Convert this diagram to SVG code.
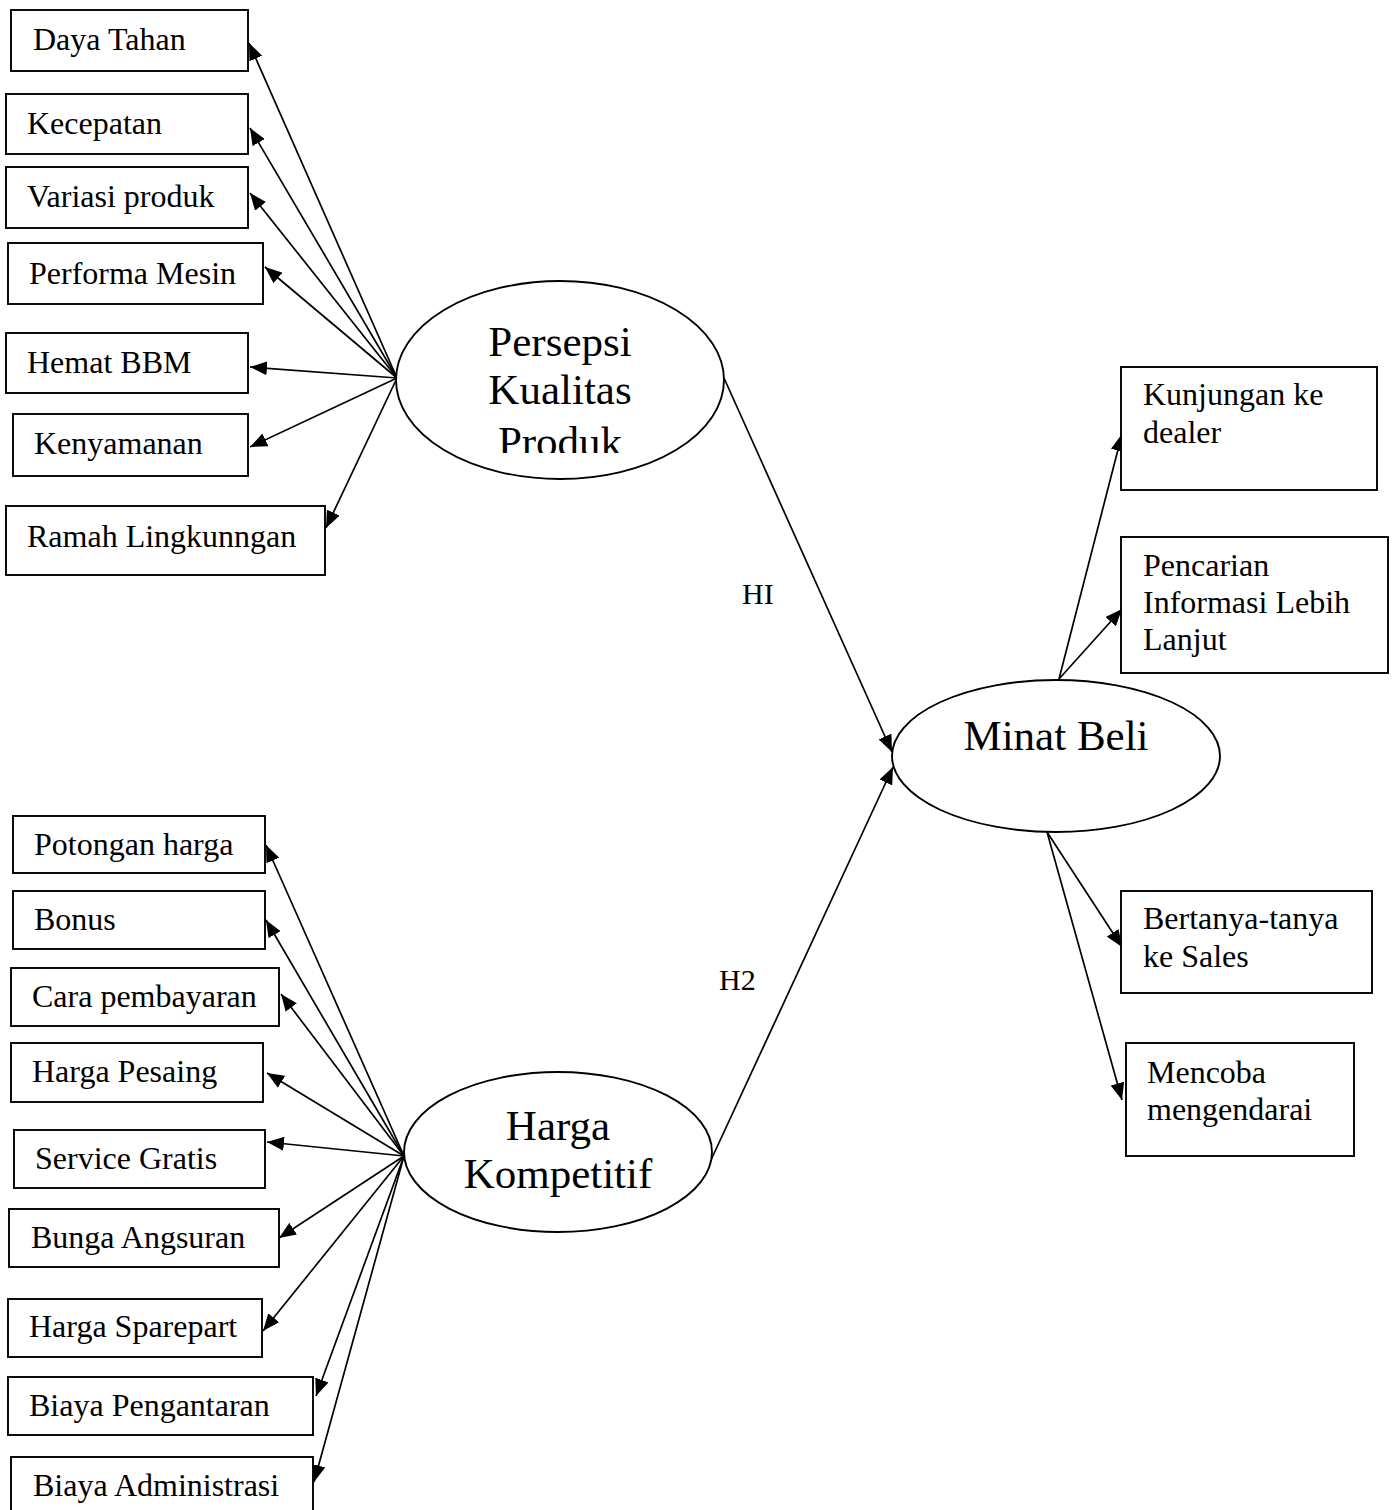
<svg xmlns="http://www.w3.org/2000/svg" width="1393" height="1510" viewBox="0 0 1393 1510">
<style>
.box{fill:#fff;stroke:#000;stroke-width:1.9}
.ell{fill:#fff;stroke:#000;stroke-width:1.9}
.t{font-family:"Liberation Serif","Times New Roman",serif;font-size:32px;fill:#000}
.big{font-family:"Liberation Serif","Times New Roman",serif;font-size:43px;fill:#000;text-anchor:middle}
.c{stroke:#000;stroke-width:1.7;fill:none;marker-end:url(#ah)}
.h{font-family:"Liberation Serif","Times New Roman",serif;font-size:30px;fill:#000}
</style>
<defs>
<marker id="ah" markerUnits="userSpaceOnUse" markerWidth="18" markerHeight="14" refX="17" refY="7" orient="auto">
<path d="M0,0 L17,7 L0,14 z" fill="#000"/>
</marker>
<clipPath id="clipP"><rect x="396" y="280" width="330" height="173"/></clipPath>
</defs>
<rect width="1393" height="1510" fill="#fff"/>
<g id="connectors">
<line class="c" x1="397" y1="378" x2="249" y2="43"/>
<line class="c" x1="397" y1="378" x2="250" y2="128"/>
<line class="c" x1="397" y1="378" x2="250" y2="193"/>
<line class="c" x1="397" y1="378" x2="265" y2="267"/>
<line class="c" x1="397" y1="378" x2="250" y2="367"/>
<line class="c" x1="397" y1="378" x2="250" y2="447"/>
<line class="c" x1="397" y1="378" x2="326" y2="528"/>
<line class="c" x1="404" y1="1156" x2="266" y2="845"/>
<line class="c" x1="404" y1="1156" x2="266" y2="920"/>
<line class="c" x1="404" y1="1156" x2="281" y2="994"/>
<line class="c" x1="404" y1="1156" x2="267" y2="1073"/>
<line class="c" x1="404" y1="1156" x2="267" y2="1142"/>
<line class="c" x1="404" y1="1156" x2="279" y2="1238"/>
<line class="c" x1="404" y1="1156" x2="263" y2="1331"/>
<line class="c" x1="404" y1="1156" x2="316" y2="1396"/>
<line class="c" x1="404" y1="1156" x2="314" y2="1482"/>
<line class="c" x1="724" y1="378" x2="892" y2="752"/>
<line class="c" x1="711" y1="1160" x2="893" y2="767"/>
<line class="c" x1="1059" y1="679" x2="1122" y2="434"/>
<line class="c" x1="1059" y1="679" x2="1122" y2="609"/>
<line class="c" x1="1047" y1="832" x2="1122" y2="947"/>
<line class="c" x1="1047" y1="832" x2="1122" y2="1100"/>
</g>
<g id="n-daya"><rect class="box" x="11" y="10" width="237" height="61"/><text class="t" x="33" y="50">Daya Tahan</text></g>
<g id="n-kecepatan"><rect class="box" x="6" y="94" width="242" height="60"/><text class="t" x="27" y="134">Kecepatan</text></g>
<g id="n-variasi"><rect class="box" x="6" y="167" width="242" height="61"/><text class="t" x="27" y="207">Variasi produk</text></g>
<g id="n-performa"><rect class="box" x="8" y="243" width="255" height="61"/><text class="t" x="29" y="284">Performa Mesin</text></g>
<g id="n-hemat"><rect class="box" x="6" y="333" width="242" height="60"/><text class="t" x="27" y="373">Hemat BBM</text></g>
<g id="n-kenyamanan"><rect class="box" x="13" y="414" width="235" height="62"/><text class="t" x="34" y="454">Kenyamanan</text></g>
<g id="n-ramah"><rect class="box" x="6" y="506" width="319" height="69"/><text class="t" x="27" y="547">Ramah Lingkunngan</text></g>
<g id="n-persepsi"><ellipse class="ell" cx="560" cy="380" rx="164" ry="99"/>
<g clip-path="url(#clipP)"><text class="big" x="560" y="356">Persepsi</text><text class="big" x="560" y="404">Kualitas</text><text class="big" x="560" y="456">Produk</text></g></g>
<g id="n-harga"><ellipse class="ell" cx="558" cy="1152" rx="154" ry="80"/><text class="big" x="558" y="1140">Harga</text><text class="big" x="558" y="1188">Kompetitif</text></g>
<g id="n-minat"><ellipse class="ell" cx="1056" cy="756" rx="164" ry="76"/><text class="big" x="1056" y="750">Minat Beli</text></g>
<text class="h" x="742" y="604">HI</text>
<text class="h" x="719" y="990">H2</text>
<g id="n-kunjungan"><rect class="box" x="1121" y="367" width="256" height="123"/><text class="t" x="1143" y="405">Kunjungan ke</text><text class="t" x="1143" y="443">dealer</text></g>
<g id="n-pencarian"><rect class="box" x="1121" y="537" width="267" height="136"/><text class="t" x="1143" y="576">Pencarian</text><text class="t" x="1143" y="613">Informasi Lebih</text><text class="t" x="1143" y="650">Lanjut</text></g>
<g id="n-bertanya"><rect class="box" x="1121" y="891" width="251" height="102"/><text class="t" x="1143" y="929">Bertanya-tanya</text><text class="t" x="1143" y="967">ke Sales</text></g>
<g id="n-mencoba"><rect class="box" x="1126" y="1043" width="228" height="113"/><text class="t" x="1147" y="1083">Mencoba</text><text class="t" x="1147" y="1120">mengendarai</text></g>
<g id="n-potongan"><rect class="box" x="13" y="816" width="252" height="57"/><text class="t" x="34" y="855">Potongan harga</text></g>
<g id="n-bonus"><rect class="box" x="13" y="891" width="252" height="58"/><text class="t" x="34" y="930">Bonus</text></g>
<g id="n-cara"><rect class="box" x="11" y="968" width="268" height="58"/><text class="t" x="32" y="1007">Cara pembayaran</text></g>
<g id="n-pesaing"><rect class="box" x="11" y="1043" width="252" height="59"/><text class="t" x="32" y="1082">Harga Pesaing</text></g>
<g id="n-service"><rect class="box" x="14" y="1130" width="251" height="58"/><text class="t" x="35" y="1169">Service Gratis</text></g>
<g id="n-bunga"><rect class="box" x="9" y="1209" width="270" height="58"/><text class="t" x="31" y="1248">Bunga Angsuran</text></g>
<g id="n-sparepart"><rect class="box" x="8" y="1299" width="254" height="58"/><text class="t" x="29" y="1337">Harga Sparepart</text></g>
<g id="n-pengantaran"><rect class="box" x="8" y="1377" width="305" height="58"/><text class="t" x="29" y="1416">Biaya Pengantaran</text></g>
<g id="n-administrasi"><rect class="box" x="11" y="1457" width="302" height="60"/><text class="t" x="33" y="1496">Biaya Administrasi</text></g>
</svg>
